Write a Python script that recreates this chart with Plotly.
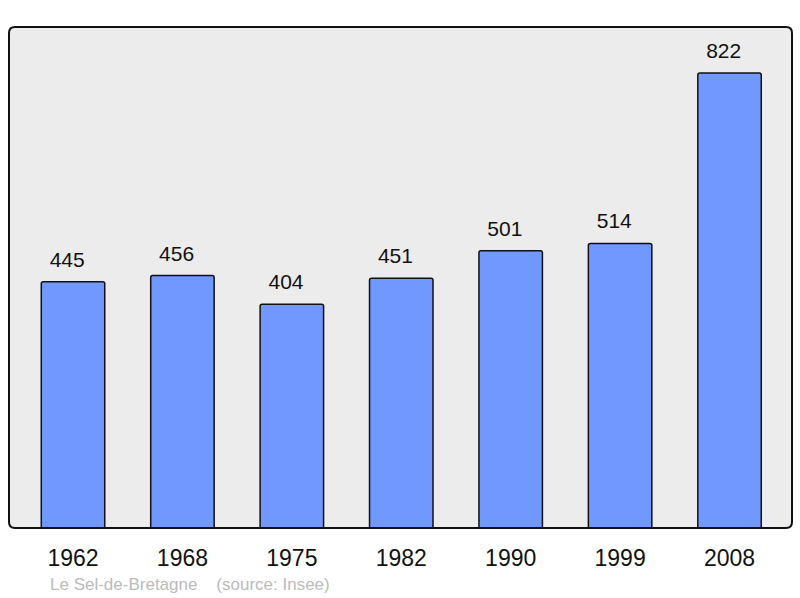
import plotly.graph_objects as go

years = ["1962", "1968", "1975", "1982", "1990", "1999", "2008"]
population = [445, 456, 404, 451, 501, 514, 822]
town = "Le Sel-de-Bretagne"
source = "(source: Insee)"

fig = go.Figure()
fig.add_trace(go.Bar(
    x=years, y=population,
    width=0.58,
    marker=dict(color="#7098ff", line=dict(color="#111111", width=1.5), cornerradius=2),
    hoverinfo="x+y",
))

# value labels above bars (invisible markers give the gap, nbsp nudges them left a bit)
fig.add_trace(go.Scatter(
    x=years, y=population, mode="markers+text",
    text=[f"{v}\u00a0\u00a0" for v in population], textposition="top center",
    marker=dict(size=14, opacity=0),
    textfont=dict(family="Liberation Sans", size=21, color="#111111"),
    hoverinfo="skip", cliponaxis=False,
))

fig.add_annotation(xref="paper", yref="paper", x=0.05, y=-0.112, xanchor="left",
                   yanchor="middle", text=town + "    " + source, showarrow=False,
                   font=dict(family="Liberation Sans", size=17, color="#bbbbbb"))

# frame around the plot area, slightly rounded corners
rx, ry = 6 / 783, 6 / 501
frame = (f"M {rx},0 L {1-rx},0 Q 1,0 1,{ry} L 1,{1-ry} Q 1,1 {1-rx},1 "
         f"L {rx},1 Q 0,1 0,{1-ry} L 0,{ry} Q 0,0 {rx},0 Z")
fig.add_shape(type="path", xref="paper", yref="paper", path=frame,
              line=dict(color="#111111", width=2), layer="above")

fig.update_layout(
    width=800, height=598,
    margin=dict(l=9, r=8, t=27, b=70),
    paper_bgcolor="white", plot_bgcolor="#ececec",
    showlegend=False,
    xaxis=dict(type="category", range=[-0.585, 6.571], showgrid=False, zeroline=False,
               ticks="outside", ticklen=9, tickcolor="rgba(0,0,0,0)",
               tickfont=dict(family="Liberation Sans", size=23, color="#111111")),
    yaxis=dict(range=[0, 905], showgrid=False, zeroline=False, showticklabels=False),
)

fig.write_html("out.html", config={"displayModeBar": False},
               post_script="document.body.style.margin='0';")
